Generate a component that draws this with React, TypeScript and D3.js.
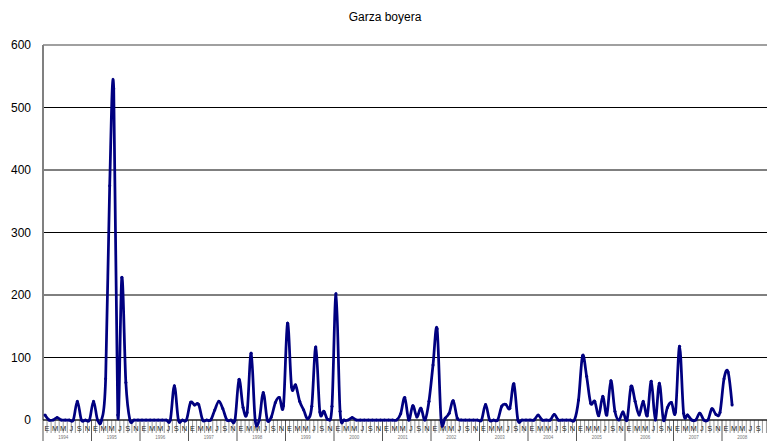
import React, { useEffect, useRef } from 'react';
import * as d3 from 'd3';

// Monthly counts, one row per year (the last year is incomplete)
const year1 = [8, 0, 0, 4, 0, 0, 0, 0, 30, 0, 0, 0];
const year2 = [30, 0, 0, 66, 375, 530, 8, 228, 60, 0, 0, 0];
const year3 = [0, 0, 0, 0, 0, 0, 0, 0, 55, 0, 0, 0];
const year4 = [28, 24, 25, 0, 0, 0, 16, 30, 18, 0, 0, 0];
const year5 = [65, 20, 12, 107, 0, 0, 44, 0, 5, 28, 36, 23];
const year6 = [155, 53, 56, 30, 16, 2, 22, 117, 13, 14, 1, 22];
const year7 = [202, 14, 0, 0, 4, 0, 0, 0, 0, 0, 0, 0];
const year8 = [0, 0, 0, 0, 10, 36, 0, 23, 5, 19, 0, 30];
const year9 = [88, 146, 0, 3, 11, 31, 3, 0, 0, 0, 0, 0];
const year10 = [0, 25, 0, 0, 0, 22, 25, 19, 58, 0, 0, 0];
const year11 = [0, 0, 8, 0, 0, 0, 9, 0, 0, 0, 0, 0];
const year12 = [32, 103, 70, 27, 30, 7, 38, 8, 63, 14, 0, 13];
const year13 = [0, 54, 30, 8, 30, 7, 62, 0, 59, 0, 20, 28];
const year14 = [13, 118, 11, 8, 0, 0, 11, 0, 0, 18, 9, 12];
const year15 = [66, 77, 24];

const counts = [
  year1, year2, year3, year4, year5, year6, year7, year8,
  year9, year10, year11, year12, year13, year14, year15
];

const years = [
  '1994', '1995', '1996', '1997', '1998', '1999', '2000', '2001',
  '2002', '2003', '2004', '2005', '2006', '2007', '2008'
];
const monthLetters = ['E', 'F', 'M', 'A', 'M', 'J', 'J', 'A', 'S', 'O', 'N', 'D'];
const yTicks = [0, 100, 200, 300, 400, 500, 600];

const W = 767;
const H = 441;

const App: React.FC = () => {
  const svgRef = useRef<SVGSVGElement>(null);

  useEffect(() => {
    if (!svgRef.current) return;
    const svg = d3.select(svgRef.current);
    svg.selectAll('*').remove();

    const left = 43;
    const top = 45;
    const bottom = 420;
    const yearWidth = 48.5;
    const nMonths = years.length * 12;
    const right = left + yearWidth * years.length;

    const values = counts.flat();
    const x = d3.scaleBand<number>()
      .domain(d3.range(nMonths))
      .range([left, right])
      .padding(0);
    const y = d3.scaleLinear().domain([0, 600]).range([bottom, top]);
    const cx = (i: number) => (x(i) || 0) + x.bandwidth() / 2;

    const font = 'Liberation Sans, Arial, sans-serif';

    // title
    svg.append('text')
      .attr('x', 385)
      .attr('y', 21)
      .attr('text-anchor', 'middle')
      .style('font-family', font)
      .style('font-size', '12px')
      .text('Garza boyera');

    // gridlines
    svg.append('g')
      .selectAll('line')
      .data(yTicks.filter(d => d > 0 && d < 600))
      .enter()
      .append('line')
      .attr('x1', left)
      .attr('x2', right)
      .attr('y1', d => y(d))
      .attr('y2', d => y(d))
      .attr('stroke', '#000')
      .attr('stroke-width', 1);

    // plot border top + y axis
    svg.append('line')
      .attr('x1', left).attr('x2', right)
      .attr('y1', y(600)).attr('y2', y(600))
      .attr('stroke', '#808080').attr('stroke-width', 1.5);
    svg.append('line')
      .attr('x1', left).attr('x2', left)
      .attr('y1', top).attr('y2', bottom)
      .attr('stroke', '#808080').attr('stroke-width', 2);

    // y labels
    svg.append('g')
      .selectAll('text')
      .data(yTicks)
      .enter()
      .append('text')
      .attr('x', 31)
      .attr('y', d => y(d) + 4)
      .attr('text-anchor', 'end')
      .style('font-family', font)
      .style('font-size', '12px')
      .text(d => d);

    // month ticks
    svg.append('g')
      .selectAll('line')
      .data(d3.range(nMonths + 1))
      .enter()
      .append('line')
      .attr('x1', i => left + i * x.step())
      .attr('x2', i => left + i * x.step())
      .attr('y1', bottom)
      .attr('y2', i => (i % 12 === 0 ? H : bottom + 13))
      .attr('stroke', i => (i % 12 === 0 ? '#555' : '#999'))
      .attr('stroke-width', 1);

    // month letters (every second month), only those that fit in the picture
    svg.append('g')
      .selectAll('text')
      .data(d3.range(0, nMonths, 2).filter(i => left + (i + 1) * x.step() < W - 4))
      .enter()
      .append('text')
      .attr('x', i => left + (i + 1) * x.step())
      .attr('y', bottom + 11)
      .attr('text-anchor', 'middle')
      .style('font-family', font)
      .style('font-size', '7.5px')
      .attr('fill', '#222')
      .text(i => monthLetters[i % 12]);

    // year labels
    svg.append('g')
      .selectAll('text')
      .data(years)
      .enter()
      .append('text')
      .attr('x', (_d, k) => left + (k + 0.5) * yearWidth - 4)
      .attr('y', bottom + 19)
      .attr('text-anchor', 'middle')
      .style('font-family', font)
      .style('font-size', '4.5px')
      .attr('fill', '#777')
      .text(d => d);

    // zero axis
    svg.append('line')
      .attr('x1', left).attr('x2', right)
      .attr('y1', bottom).attr('y2', bottom)
      .attr('stroke', '#222').attr('stroke-width', 1.5);

    const line = d3.line<number>()
      .x((_d, i) => cx(i))
      .y(d => y(d))
      .curve(d3.curveCatmullRom.alpha(0));

    svg.append('path')
      .datum(values)
      .attr('d', line)
      .attr('fill', 'none')
      .attr('stroke', '#000080')
      .attr('stroke-width', 2.75)
      .attr('stroke-linejoin', 'round');

    svg.append('g')
      .selectAll('circle')
      .data(values)
      .enter()
      .append('circle')
      .attr('cx', (_d, i) => cx(i))
      .attr('cy', d => y(d))
      .attr('r', 1.5)
      .attr('fill', '#000080');
  }, []);

  return (
    <svg
      ref={svgRef}
      width={W}
      height={H}
      style={{ position: 'absolute', left: 0, top: 0, background: '#fff' }}
    />
  );
};

export default App;
